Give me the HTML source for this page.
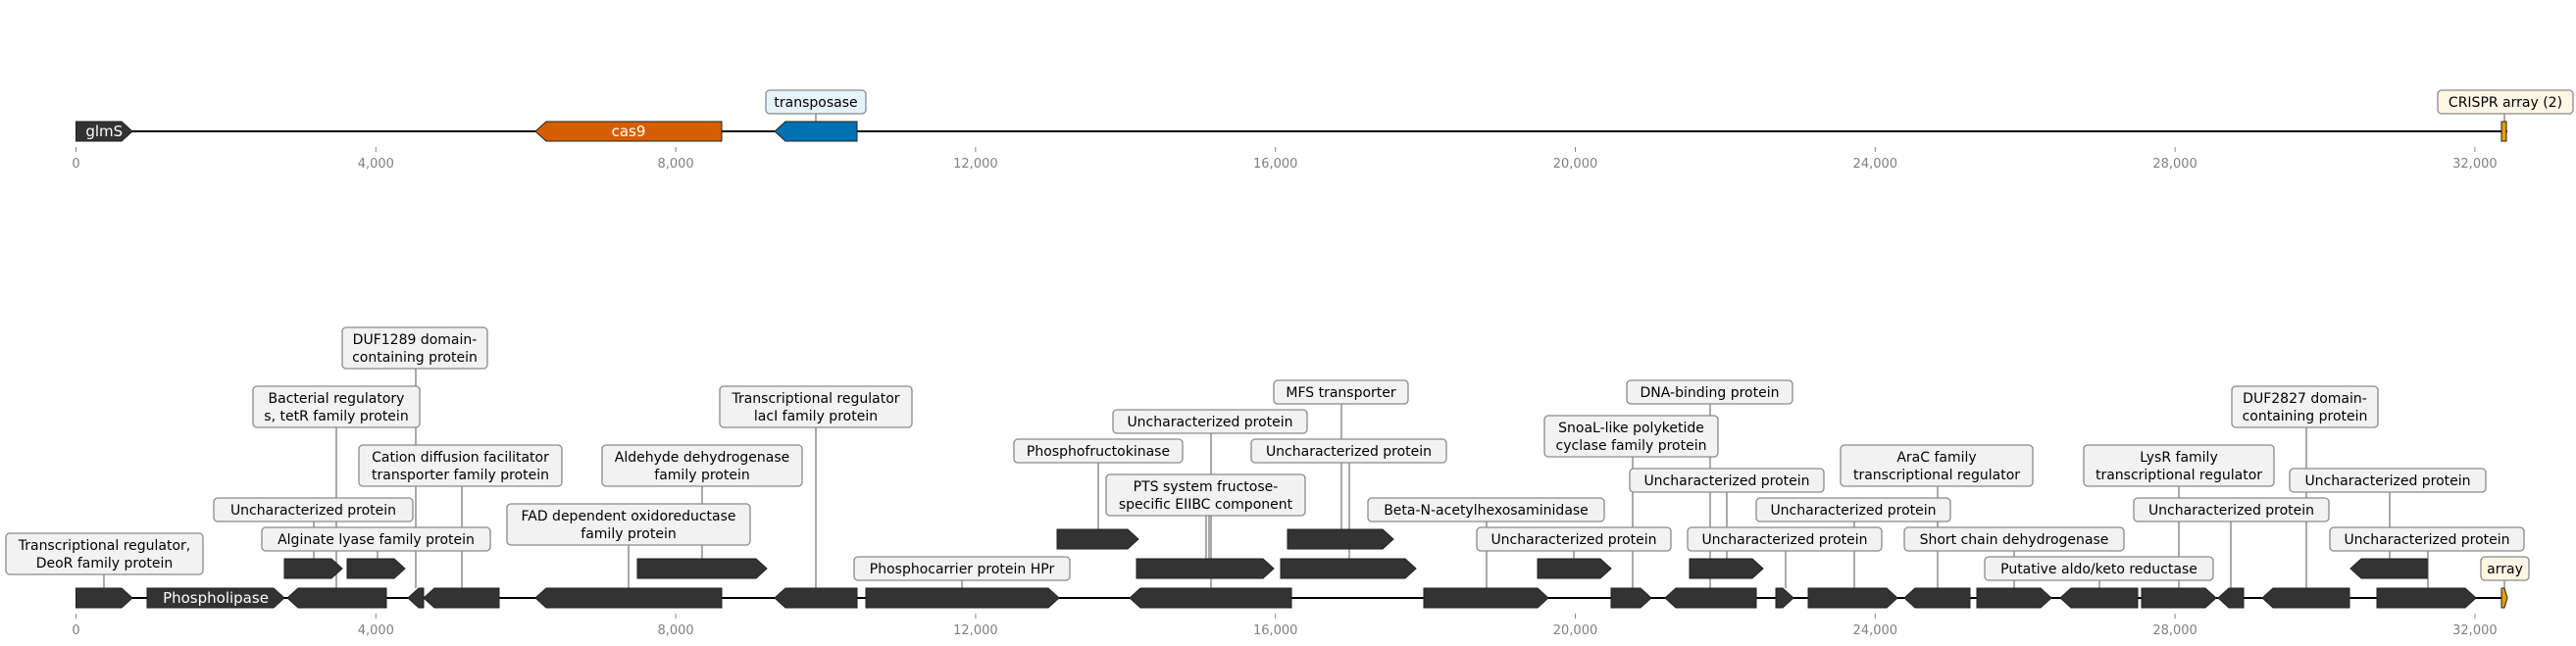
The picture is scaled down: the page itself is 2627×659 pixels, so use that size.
<!DOCTYPE html>
<html><head><meta charset="utf-8"><style>
html,body{margin:0;padding:0;background:#fff;}
svg{display:block;}
text{font-family:"DejaVu Sans","Liberation Sans",sans-serif;}
.lb{font-size:14px;fill:#000;text-anchor:middle;}
.tk{font-size:13px;fill:#808080;text-anchor:middle;}
.box{fill:#f2f2f2;stroke:#8a8a8a;stroke-width:1.3;}
.pt{stroke:#555;stroke-width:1;}
.g{fill:#333;stroke:#222;stroke-width:1;}
</style></head><body>
<svg id="s" width="2627" height="659" xmlns="http://www.w3.org/2000/svg"></svg>
<script>
var s=document.getElementById('s'),h='';
function gene(x1,x2,y,dir,fill,txt){var H=10,a=Math.min(11,x2-x1),p;
if(dir>0)p=[[x1,y-H],[x2-a,y-H],[x2,y],[x2-a,y+H],[x1,y+H]];else p=[[x1,y],[x1+a,y-H],[x2,y-H],[x2,y+H],[x1+a,y+H]];
h+='<polygon points="'+p.map(function(q){return q.join(',')}).join(' ')+'" fill="'+(fill||'#333')+'" stroke="#222" stroke-width="1"/>';
if(txt)h+='<text x="'+((x1+x2)/2)+'" y="'+(y+5)+'" font-size="15" fill="#fff" text-anchor="middle">'+txt+'</text>';}
function axis(y,x2){h+='<line x1="77.5" y1="'+y+'" x2="'+x2+'" y2="'+y+'" stroke="#000" stroke-width="2"/>';
for(var i=0;i<=8;i++){var x=77.5+i*305.8;h+='<line x1="'+x+'" y1="'+(y+16)+'" x2="'+x+'" y2="'+(y+21)+'" stroke="#888" stroke-width="1"/>';
h+='<text class="tk" x="'+x+'" y="'+(y+37)+'">'+(i*4000).toLocaleString('en-US')+'</text>';}}
var boxes='';
function lab(x1,x2,y1,lines,px,ty,fill){var hh=lines.length>1?42:24;
h+='<line class="pt" x1="'+px+'" y1="'+(y1+hh)+'" x2="'+px+'" y2="'+ty+'"/>';
boxes+='<rect x="'+x1+'" y="'+y1+'" width="'+(x2-x1)+'" height="'+hh+'" rx="4" class="box"'+(fill?' style="fill:'+fill+'"':'')+'/>';
var cx=(x1+x2)/2;lines.forEach(function(t,i){boxes+='<text class="lb" x="'+cx+'" y="'+(y1+17+i*18)+'">'+t+'</text>';});}
// top track
axis(134,2557);
lab(781,883,92,['transposase'],832,124,'#e6f3fa');
lab(2486,2624,92,['CRISPR array (2)'],2554,124,'#fdf6e4');
gene(77.5,135,134,1,null,'glmS');
gene(546,736,134,-1,'#d55e00','cas9');
gene(790,874,134,-1,'#0072b2');
h+='<rect x="2551" y="124" width="5" height="20" fill="#e69f00" stroke="#222" stroke-width="1"/>';
// bottom
axis(610,2557);
var U='Uncharacterized protein';
lab(6,207,544,['Transcriptional regulator,','DeoR family protein'],106,600);
lab(218,421,508,[U],320,570);
lab(267,500,538,['Alginate lyase family protein'],385,570);
lab(258,428,394,['Bacterial regulatory','s, tetR family protein'],343,600);
lab(349,497,334,['DUF1289 domain-','containing protein'],424,600);
lab(366,573,454,['Cation diffusion facilitator','transporter family protein'],471,600);
lab(614,818,454,['Aldehyde dehydrogenase','family protein'],716,570);
lab(517,765,514,['FAD dependent oxidoreductase','family protein'],641,600);
lab(734,930,394,['Transcriptional regulator','lacI family protein'],832,600);
lab(871,1091,568,['Phosphocarrier protein HPr'],981,600);
lab(1034,1206,448,['Phosphofructokinase'],1120,540);
lab(1135,1333,418,[U],1235,600);
lab(1128,1331,484,['PTS system fructose-','specific EIIBC component'],1230,570);
h+='<line class="pt" x1="1233" y1="526" x2="1233" y2="570"/>';
lab(1299,1436,388,['MFS transporter'],1368,540);
lab(1276,1475,448,[U],1376,570);
lab(1395,1636,508,['Beta-N-acetylhexosaminidase'],1516,600);
lab(1506,1704,538,[U],1605,570);
lab(1575,1752,424,['SnoaL-like polyketide','cyclase family protein'],1665,600);
lab(1659,1828,388,['DNA-binding protein'],1744,600);
lab(1662,1860,478,[U],1761,570);
lab(1721,1919,538,[U],1821,600);
lab(1791,1989,508,[U],1891,600);
lab(1877,2073,454,['AraC family','transcriptional regulator'],1976,600);
lab(1942,2166,538,['Short chain dehydrogenase'],2054,600);
lab(2024,2257,568,['Putative aldo/keto reductase'],2141,600);
lab(2125,2319,454,['LysR family','transcriptional regulator'],2222,600);
lab(2176,2375,508,[U],2275,600);
lab(2276,2425,394,['DUF2827 domain-','containing protein'],2352,600);
lab(2335,2535,478,[U],2437,570);
lab(2376,2574,538,[U],2476,600);
lab(2530,2579,568,['array'],2554,600,'#fdf6e4');
[[77.5,135,1],[150,290,1,'Phospholipase'],[293,394,-1],[416,432,-1],[432,509,-1],[546,736,-1],[790,874,-1],[883,1080,1],[1152,1317,-1],[1452,1579,1],[1643,1684,1],[1698,1791,-1],[1811,1829,1],[1844,1935,1],[1942,2009,-1],[2016,2092,1],[2101,2180,-1],[2184,2260,1],[2262,2288,-1],[2307,2396,-1],[2424,2525,1]].forEach(function(g){gene(g[0],g[1],610,g[2],null,g[3]);});
[[290,349,1],[354,413,1],[650,782,1],[1159,1299,1],[1306,1444,1],[1568,1643,1],[1723,1798,1],[2397,2475,-1]].forEach(function(g){gene(g[0],g[1],580,g[2]);});
[[1078,1161,1],[1313,1421,1]].forEach(function(g){gene(g[0],g[1],550,g[2]);});
h+='<polygon points="2551,600 2554,600 2557,610 2554,620 2551,620" fill="#e69f00" stroke="#222" stroke-width="1"/>';
s.innerHTML=h+boxes;
</script>
</body></html>
